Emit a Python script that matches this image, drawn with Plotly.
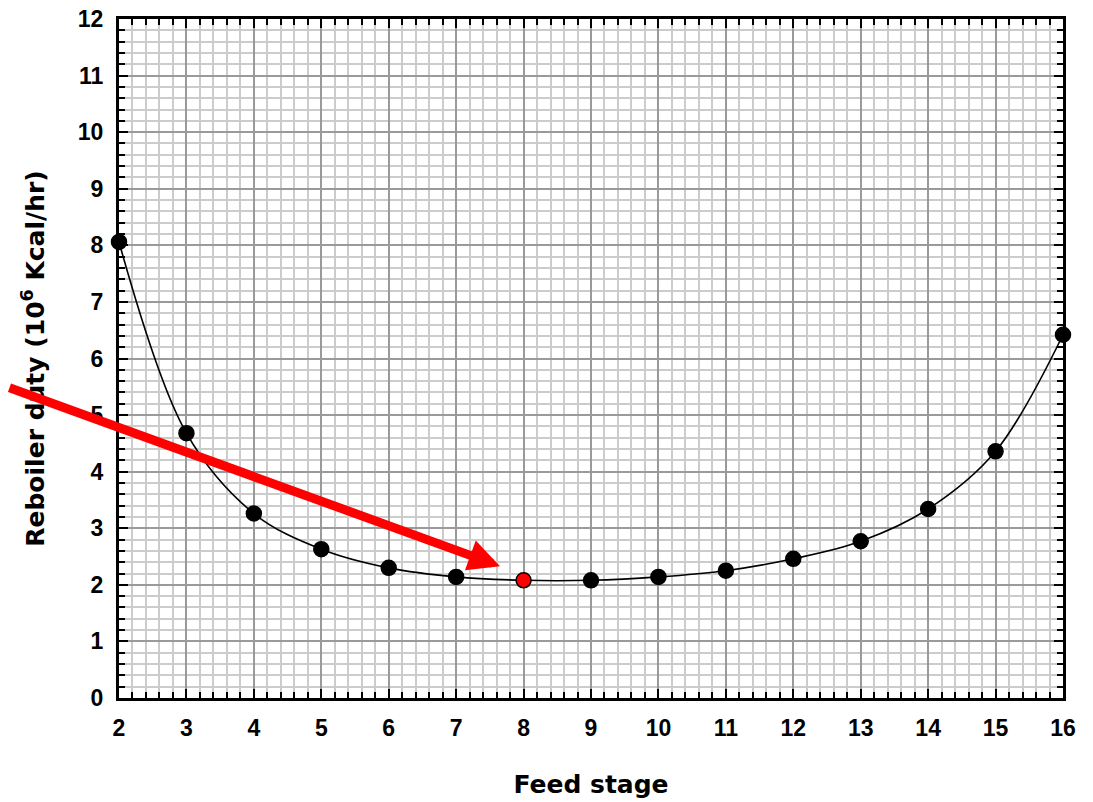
import plotly.graph_objects as go

feed_stage = [2, 3, 4, 5, 6, 7, 8, 9, 10, 11, 12, 13, 14, 15, 16]
reboiler_duty = [8.06, 4.68, 3.26, 2.63, 2.30, 2.14, 2.08, 2.08, 2.14, 2.25, 2.46, 2.77, 3.34, 4.36, 6.42]
optimum_stage = 8
marker_colors = ["red" if s == optimum_stage else "black" for s in feed_stage]

x_ticks = list(range(2, 17))
y_ticks = list(range(0, 13))

fig = go.Figure()
fig.add_trace(go.Scatter(
    x=feed_stage, y=reboiler_duty, mode="lines+markers",
    line=dict(color="black", width=1.6, shape="spline", smoothing=1),
    marker=dict(size=15, color=marker_colors, line=dict(color="black", width=1.5)),
    cliponaxis=False, showlegend=False,
))

tick_font = dict(family="Liberation Sans", size=23, color="black", weight="bold")
title_font = dict(family="DejaVu Sans", size=25, color="black", weight="bold")

common = dict(
    showline=True, linecolor="black", linewidth=3, mirror="allticks",
    ticks="inside", ticklen=9, tickwidth=2, tickcolor="black",
    showgrid=True, gridcolor="#9a9a9a", gridwidth=1.5,
    zeroline=False, tickfont=tick_font, automargin=False,
    ticklabeloverflow="allow",
)

fig.update_xaxes(
    range=[2, 16], tickvals=x_ticks, ticktext=[str(v) for v in x_ticks],
    minor=dict(dtick=0.2, ticks="inside", ticklen=6, tickwidth=2, tickcolor="black",
               showgrid=True, gridcolor="#cccccc", gridwidth=1.5),
    title=dict(text="<b>Feed stage</b>", font=title_font, standoff=36),
    ticklabelstandoff=7,
    **common,
)
fig.update_yaxes(
    range=[0, 12], tickvals=y_ticks, ticktext=[str(v) for v in y_ticks],
    minor=dict(dtick=0.2, ticks="inside", ticklen=6, tickwidth=2, tickcolor="black",
               showgrid=True, gridcolor="#cccccc", gridwidth=1.5),
    title=dict(text="<b>Reboiler duty (10<sup>6</sup> Kcal/hr)</b>", font=title_font, standoff=27),
    ticklabelstandoff=8,
    **common,
)

fig.add_annotation(
    x=7.65, y=2.33, xref="x", yref="y", text="",
    showarrow=True, arrowhead=2, arrowsize=0.7, arrowwidth=9, arrowcolor="red",
    ax=-499, ay=-179, standoff=0,
)

fig.update_layout(
    width=1093, height=802,
    margin=dict(l=111, r=38, t=11, b=112),
    plot_bgcolor="white", paper_bgcolor="white",
)

fig.write_html("out.html")
